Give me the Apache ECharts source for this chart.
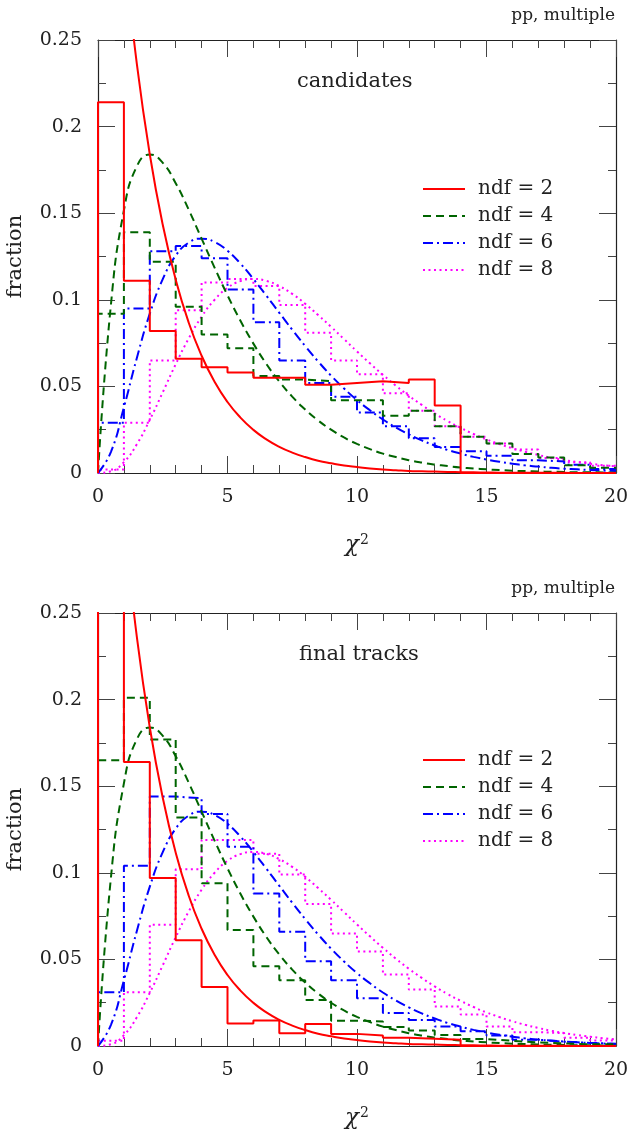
<!DOCTYPE html>
<html><head><meta charset="utf-8">
<script src="https://cdn.jsdelivr.net/npm/echarts@6/dist/echarts.min.js"></script>
<style>html,body{margin:0;padding:0;background:#fff}#c{width:629px;height:1129px}</style>
</head><body><div id="c"></div>
<script>
// ---- data ----
const binEdges = [0,1,2,3,4,5,6,7,8,9,10,11,12,13,14,15,16,17,18,19,20];
const seriesNames = ['ndf = 2','ndf = 4','ndf = 6','ndf = 8'];
const xTickLabels = ['0','5','10','15','20'];

// top panel: candidates (fraction per unit chi2 bin)
const candNdf2 = [0.214,0.111,0.082,0.066,0.061,0.058,0.055,0.055,0.051,0.052,0.053,0.052,0.054,0.039,0,0,0,0,0,0];
const candNdf4 = [0.092,0.139,0.122,0.096,0.080,0.072,0.056,0.054,0.053,0.042,0.042,0.033,0.036,0.027,0.021,0.017,0.011,0.009,0.0045,0.003];
const candNdf6 = [0.029,0.095,0.128,0.131,0.124,0.106,0.087,0.065,0.052,0.044,0.035,0.027,0.020,0.015,0.0125,0.010,0.0073,0.0067,0.0048,0.0023];
const candNdf8 = [0.002,0.029,0.065,0.094,0.110,0.112,0.108,0.097,0.081,0.065,0.057,0.046,0.036,0.027,0.021,0.017,0.0135,0.0087,0.0062,0.0042];

// bottom panel: final tracks (first ndf=2 bin is off scale)
const finalNdf2 = [0.30,0.164,0.097,0.061,0.034,0.013,0.0147,0.0073,0.0127,0.007,0.006,0.0047,0.0042,0.0036,0,0,0,0,0,0];
const finalNdf4 = [0.165,0.201,0.177,0.132,0.094,0.067,0.046,0.038,0.0265,0.0146,0.0142,0.011,0.009,0.0063,0.004,0.003,0.002,0.0015,0.001,0.001];
const finalNdf6 = [0.031,0.104,0.144,0.143,0.134,0.115,0.088,0.066,0.049,0.038,0.0276,0.019,0.015,0.0113,0.0085,0.006,0.0036,0.0026,0.0018,0.0013];
const finalNdf8 = [0.003,0.031,0.070,0.102,0.119,0.119,0.111,0.099,0.082,0.065,0.0546,0.0413,0.0326,0.0228,0.0182,0.0113,0.008,0.0074,0.0047,0.0032];

// reference curves read along chi2 (same in both panels)
const curveX = [0,0.5,1,1.5,2,2.5,3,3.5,4,4.5,5,5.5,6,6.5,7,7.5,8,8.5,9,9.5,10,10.5,11,11.5,12,12.5,13,13.5,14,14.5,15,15.5,16,16.5,17,17.5,18,18.5,19,19.5,20];
const curveNdf2 = [0.5,0.3894,0.3033,0.2362,0.1839,0.1433,0.1116,0.0869,0.0677,0.0527,0.0410,0.0320,0.0249,0.0194,0.0151,0.0118,0.0092,0.0071,0.0056,0.0043,0.0034,0.0026,0.0020,0.0016,0.0012,0.0010,0.0008,0.0006,0.0005,0.0004,0.0003,0.0002,0.0002,0.0001,0.0001,0.0001,0.0001,0,0,0,0];
const curveNdf4 = [0,0.0974,0.1516,0.1771,0.1839,0.1791,0.1673,0.1521,0.1353,0.1186,0.1026,0.0879,0.0747,0.0630,0.0528,0.0441,0.0366,0.0303,0.0250,0.0205,0.0168,0.0138,0.0112,0.0092,0.0074,0.0060,0.0049,0.0040,0.0032,0.0026,0.0021,0.0017,0.0013,0.0011,0.0009,0.0007,0.0006,0.0004,0.0004,0.0003,0.0002];
const curveNdf6 = [0,0.0122,0.0379,0.0664,0.0920,0.1119,0.1255,0.1330,0.1353,0.1334,0.1283,0.1209,0.1120,0.1024,0.0925,0.0827,0.0733,0.0644,0.0562,0.0488,0.0421,0.0362,0.0309,0.0263,0.0223,0.0188,0.0159,0.0133,0.0112,0.0093,0.0078,0.0065,0.0054,0.0044,0.0037,0.0030,0.0025,0.0021,0.0017,0.0014,0.0011];
const curveNdf8 = [0,0.0010,0.0063,0.0166,0.0307,0.0466,0.0628,0.0776,0.0902,0.1000,0.1069,0.1108,0.1120,0.1109,0.1079,0.1034,0.0977,0.0912,0.0844,0.0773,0.0702,0.0633,0.0567,0.0504,0.0446,0.0393,0.0344,0.0300,0.0261,0.0225,0.0194,0.0167,0.0143,0.0122,0.0104,0.0088,0.0075,0.0063,0.0054,0.0045,0.0038];

// ---- styles ----
const FONT = 'DejaVu Serif';
const TXT = '#222';
const styles = [
  {color:'#ff0000', type:'solid', width:2},
  {color:'#006400', type:[8,5], width:2},
  {color:'#0000ff', type:[10,4,2,4], width:2},
  {color:'#ff00ff', type:[2,3.5], width:2}
];

function histData(vals){
  const d = [[binEdges[0], 0]];
  vals.forEach((v,i)=>d.push([binEdges[i], v]));
  d.push([binEdges[binEdges.length-1], vals[vals.length-1]]);
  return d;
}
function curveData(vals){ return curveX.map((x,i)=>[x, vals[i]]); }

const grids = [
  {left:98, top:40, width:518, height:433, containLabel:false, outerBoundsMode:'none'},
  {left:98, top:613, width:518, height:433, containLabel:false, outerBoundsMode:'none'}
];

function xAxes(gi){
  const base = {type:'value', gridIndex:gi, min:0, max:20, interval:5,
    axisLine:{show:true, onZero:false, lineStyle:{color:'#222', width:1.2}},
    axisTick:{show:true, inside:true, length:17, lineStyle:{color:'#444', width:1}},
    minorTick:{show:true, splitNumber:5, length:8, lineStyle:{color:'#444', width:1}},
    splitLine:{show:false}};
  return [
    Object.assign({}, base, {position:'bottom',
      axisLabel:{show:true, margin:15, fontFamily:FONT, fontSize:19, color:TXT,
        formatter:(v)=>xTickLabels[Math.round(v/5)]},
      name:'{a|χ}{b|2}', nameLocation:'middle', nameGap:60,
      nameTextStyle:{rich:{a:{fontFamily:FONT, fontSize:23, fontStyle:'italic', color:TXT},
                           b:{fontFamily:FONT, fontSize:14, color:TXT, verticalAlign:'bottom', padding:[0,0,11,1]}}}}),
    Object.assign({}, base, {position:'top', axisLabel:{show:false}})
  ];
}
function yAxes(gi){
  const base = {type:'value', gridIndex:gi, min:0, max:0.25, interval:0.05,
    axisLine:{show:true, onZero:false, lineStyle:{color:'#222', width:1.2}},
    axisTick:{show:true, inside:true, length:17, lineStyle:{color:'#444', width:1}},
    minorTick:{show:true, splitNumber:2, length:8, lineStyle:{color:'#444', width:1}},
    splitLine:{show:false}};
  return [
    Object.assign({}, base, {position:'left',
      axisLabel:{show:true, margin:16, fontFamily:FONT, fontSize:19, color:TXT,
        formatter:(v)=> v===0 ? '0' : String(+v.toFixed(2))},
      name:'fraction', nameLocation:'middle', nameGap:72, nameRotate:90,
      nameTextStyle:{fontFamily:FONT, fontSize:21, color:TXT}}),
    Object.assign({}, base, {position:'right', axisLabel:{show:false}})
  ];
}

const series = [];
const panels = [
  {hist:[candNdf2,candNdf4,candNdf6,candNdf8]},
  {hist:[finalNdf2,finalNdf4,finalNdf6,finalNdf8]}
];
const curves = [curveNdf2,curveNdf4,curveNdf6,curveNdf8];
panels.forEach((p,pi)=>{
  p.hist.forEach((vals,k)=>{
    series.push({type:'line', name:seriesNames[k], xAxisIndex:pi*2, yAxisIndex:pi*2,
      data:histData(vals), step:'end', symbol:'none', clip:true, animation:false,
      lineStyle:Object.assign({}, styles[k]), itemStyle:{color:styles[k].color}, z:10-k});
  });
  curves.forEach((vals,k)=>{
    series.push({type:'line', name:seriesNames[k], xAxisIndex:pi*2, yAxisIndex:pi*2,
      data:curveData(vals), smooth:true, symbol:'none', clip:true, animation:false,
      lineStyle:Object.assign({}, styles[k]), itemStyle:{color:styles[k].color}, z:10-k});
  });
});

const legendBase = {orient:'vertical', left:417, data:seriesNames, itemWidth:42, itemHeight:14, itemGap:7,
  itemStyle:{opacity:0},
  textStyle:{fontFamily:FONT, fontSize:20, color:TXT, lineHeight:20, padding:[0,0,0,8]}, selectedMode:false};

const chart = echarts.init(document.getElementById('c'), null, {renderer:'canvas'});
chart.setOption({
  backgroundColor:'#fff',
  animation:false,
  grid:grids,
  xAxis:[...xAxes(0), ...xAxes(1)],
  yAxis:[...yAxes(0), ...yAxes(1)],
  legend:[Object.assign({}, legendBase, {top:174}), Object.assign({}, legendBase, {top:745})],
  series:series,
  graphic:[
    {type:'text', right:14, top:7, style:{text:'pp, multiple', font:'17px "DejaVu Serif"', fill:TXT}},
    {type:'text', right:14, top:580, style:{text:'pp, multiple', font:'17px "DejaVu Serif"', fill:TXT}},
    {type:'text', left:297, top:71, style:{text:'candidates', font:'21px "DejaVu Serif"', fill:TXT}},
    {type:'text', left:299, top:644, style:{text:'final tracks', font:'21px "DejaVu Serif"', fill:TXT}}
  ]
});
</script></body></html>
